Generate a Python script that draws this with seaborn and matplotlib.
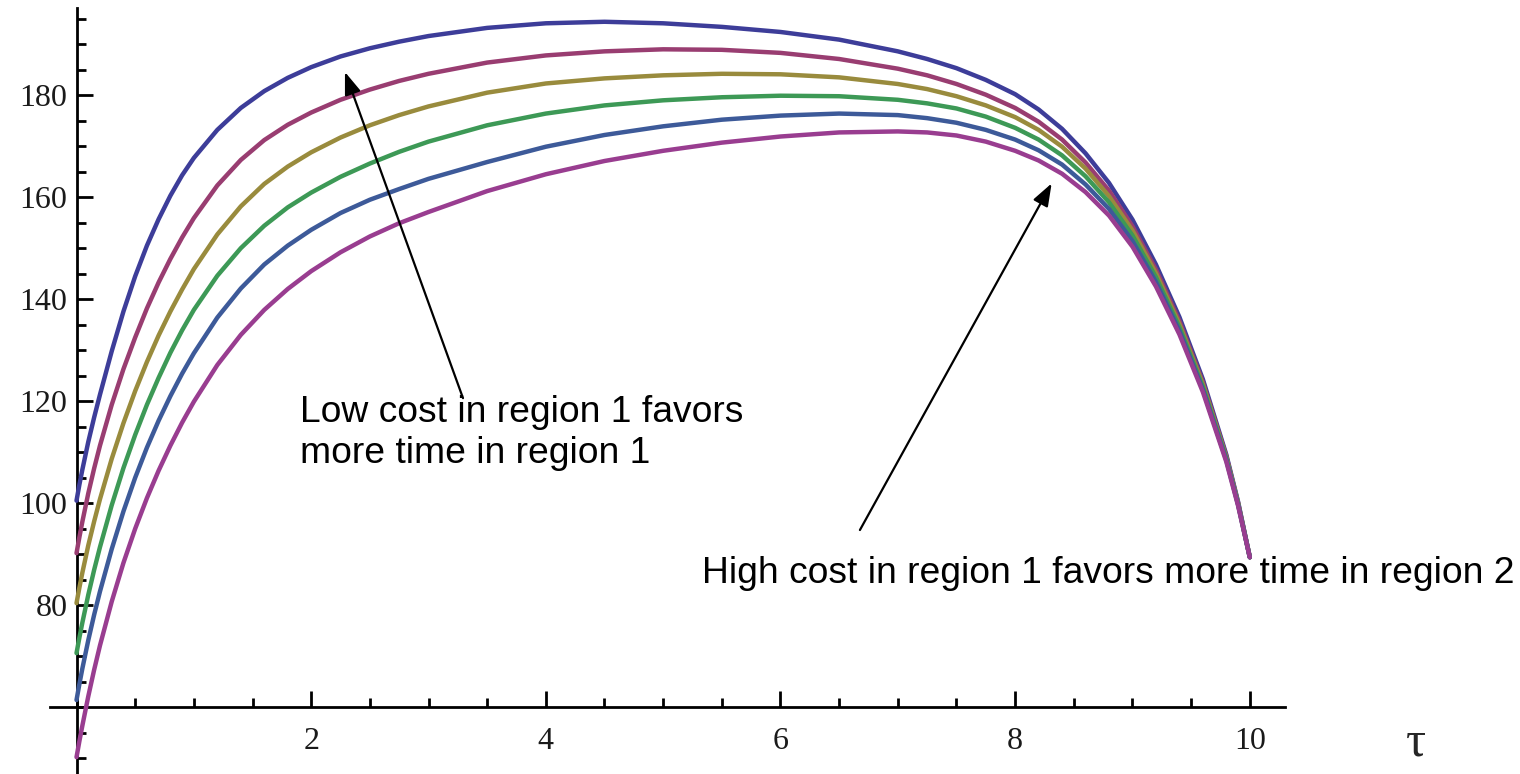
import numpy as np
import pandas as pd
import matplotlib.pyplot as plt
import seaborn as sns
from matplotlib.ticker import FixedLocator, MultipleLocator


# values

tau = [0, 0.025, 0.05, 0.1, 0.15, 0.2, 0.3, 0.4, 0.5, 0.6, 0.7, 0.8, 0.9, 1.0,
       1.2, 1.4, 1.6, 1.8, 2.0, 2.25, 2.5, 2.75, 3.0, 3.5, 4.0, 4.5, 5.0, 5.5, 6.0, 6.5, 7.0,
       7.25, 7.5, 7.75, 8.0, 8.2, 8.4, 8.6, 8.8, 9.0, 9.2, 9.4, 9.6, 9.8, 9.9, 10.0]

curve_1 = [100.5, 103.7, 106.6, 112.0, 116.8, 121.3, 129.8, 137.6, 144.5, 150.5, 155.7, 160.3, 164.3, 167.7,
           173.2, 177.5, 180.8, 183.4, 185.5, 187.6, 189.2, 190.5, 191.6, 193.2, 194.1, 194.4, 194.1,
           193.4, 192.4, 190.9, 188.6, 187.1, 185.3, 183.0, 180.2, 177.2, 173.4, 168.6, 162.8, 155.6,
           146.8, 136.5, 124.3, 109.5, 100.3, 89.4]
curve_2 = [90.2, 93.4, 96.4, 101.9, 106.8, 111.3, 119.3, 126.3, 132.5, 138.2, 143.3, 147.9, 152.1, 155.9,
           162.3, 167.3, 171.2, 174.2, 176.6, 179.1, 181.1, 182.8, 184.2, 186.4, 187.8, 188.6, 189.0,
           188.9, 188.3, 187.1, 185.2, 183.9, 182.2, 180.1, 177.5, 174.8, 171.3, 166.8, 161.3, 154.3,
           145.8, 135.7, 123.7, 109.2, 100.1, 89.4]
curve_3 = [80.4, 83.5, 86.4, 91.7, 96.4, 100.8, 108.7, 115.7, 122.0, 127.7, 132.9, 137.6, 141.9, 145.9,
           152.7, 158.2, 162.6, 166.0, 168.8, 171.7, 174.1, 176.1, 177.8, 180.5, 182.3, 183.3, 183.9,
           184.2, 184.1, 183.5, 182.2, 181.2, 179.8, 178.0, 175.7, 173.2, 169.9, 165.6, 160.2, 153.5,
           145.1, 135.1, 123.3, 108.9, 100.0, 89.4]
curve_4 = [70.6, 73.7, 76.6, 82.0, 86.9, 91.4, 99.6, 106.9, 113.4, 119.3, 124.6, 129.5, 133.9, 137.9,
           144.6, 150.0, 154.4, 158.0, 160.9, 164.0, 166.6, 168.9, 170.9, 174.1, 176.4, 178.0, 179.0,
           179.6, 179.9, 179.8, 179.1, 178.4, 177.4, 175.8, 173.6, 171.3, 168.2, 164.1, 159.0, 152.5,
           144.3, 134.5, 122.8, 108.7, 99.8, 89.4]
curve_5 = [61.4, 64.6, 67.6, 73.1, 78.1, 82.7, 91.0, 98.4, 105.0, 110.9, 116.2, 121.0, 125.4, 129.4,
           136.4, 142.1, 146.8, 150.5, 153.6, 156.9, 159.5, 161.6, 163.6, 166.9, 169.9, 172.2, 173.9,
           175.2, 176.0, 176.4, 176.1, 175.5, 174.6, 173.2, 171.3, 169.2, 166.4, 162.5, 157.7, 151.4,
           143.4, 133.8, 122.3, 108.4, 99.7, 89.4]
curve_6 = [50.2, 53.4, 56.4, 62.1, 67.3, 72.1, 80.7, 88.3, 95.0, 101.0, 106.4, 111.3, 115.8, 119.9,
           127.1, 133.0, 137.9, 142.0, 145.5, 149.2, 152.3, 154.9, 157.1, 161.2, 164.5, 167.1, 169.1,
           170.7, 171.9, 172.7, 172.9, 172.7, 172.1, 170.9, 169.1, 167.2, 164.6, 161.0, 156.4, 150.3,
           142.5, 133.1, 121.8, 108.1, 99.5, 89.4]

x_ticks = [2, 4, 6, 8, 10]
y_ticks = [80, 100, 120, 140, 160, 180]

names = ['c1', 'c2', 'c3', 'c4', 'c5', 'c6']
colors = ['#3d3d99', '#993d71', '#998b3d', '#3d9956', '#3d5a99', '#993d90']

curves = [curve_1, curve_2, curve_3, curve_4, curve_5, curve_6]
df = pd.DataFrame({
    'tau': tau * len(curves),
    'value': sum(curves, []),
    'curve': np.repeat(names, len(tau)),
})


# plot

sns.set_style('white')

fig = plt.figure(figsize=(15.2, 7.74), dpi=100)
ax = fig.add_axes([50 / 1520, 0, 1235 / 1520, 766 / 774])

sns.lineplot(data=df, x='tau', y='value', hue='curve', palette=colors,
             estimator=None, sort=False, legend=False, lw=3.2, zorder=3, ax=ax)

ax.set_xlim(-0.226, 10.30)
ax.set_ylim(46.9, 197.1)

# Mathematica style axes crossing at (0, 60)
ax.spines['left'].set_position(('data', 0))
ax.spines['bottom'].set_position(('data', 60))
ax.spines[['top', 'right']].set_visible(False)
for s in ['left', 'bottom']:
    ax.spines[s].set_linewidth(2)
    ax.spines[s].set_color('black')

ax.xaxis.set_major_locator(FixedLocator(x_ticks))
ax.xaxis.set_minor_locator(MultipleLocator(0.5))
ax.yaxis.set_major_locator(FixedLocator(y_ticks))
ax.yaxis.set_minor_locator(MultipleLocator(5))

ax.tick_params(which='both', direction='in', width=2, color='black',
               bottom=True, left=True, top=False, right=False)
ax.tick_params(which='major', length=11.5)
ax.tick_params(which='minor', length=6.5)
ax.tick_params(axis='x', pad=14)
ax.tick_params(axis='y', pad=6.5)

for lab in ax.get_xticklabels() + ax.get_yticklabels():
    lab.set_family(['Liberation Serif', 'DejaVu Serif'])
    lab.set_fontsize(23)
    lab.set_color('#1a1a1a')

ax.set_xlabel('')
ax.set_ylabel('')

# tau label at the end of the x axis
ax.text(11.42, 50.6, 'τ', family=['Liberation Serif', 'DejaVu Serif'],
        fontsize=36, ha='center', va='baseline', clip_on=False)

# annotations
note_font = dict(family=['Liberation Sans', 'DejaVu Sans'], fontsize=26.8, color='black')
ax.text(1.905, 115.92, 'Low cost in region 1 favors', ha='left', va='baseline', **note_font)
ax.text(1.905, 107.9, 'more time in region 1', ha='left', va='baseline', **note_font)
ax.text(5.331, 84.35, 'High cost in region 1 favors more time in region 2',
        ha='left', va='baseline', **note_font)

arrow = dict(arrowstyle='-|>,head_length=0.55,head_width=0.2', color='black',
             lw=1.6, mutation_scale=25, shrinkA=0, shrinkB=0)
ax.annotate('', xy=(2.288, 184.55), xytext=(3.294, 120.6), arrowprops=arrow)
ax.annotate('', xy=(8.311, 162.7), xytext=(6.677, 94.74), arrowprops=arrow)

fig.savefig('out.png', dpi=100)
